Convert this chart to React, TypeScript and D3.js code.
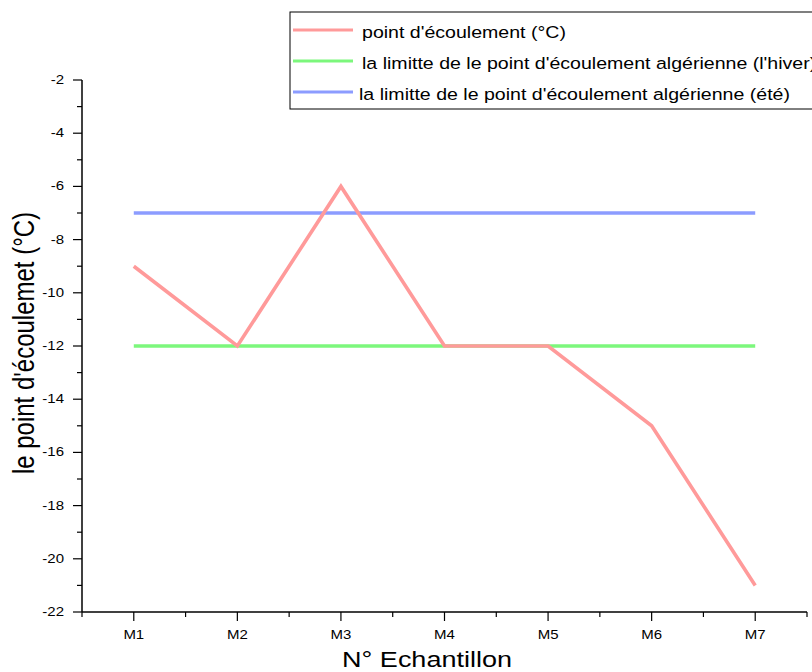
import React from "react";
import * as d3 from "d3";

// Samples and their pour point (°C)
const samples = ["M1", "M2", "M3", "M4", "M5", "M6", "M7"];
const pourPoint = [-9, -12, -6, -12, -12, -15, -21];
// Algerian limits
const winterLimit = [-12, -12, -12, -12, -12, -12, -12];
const summerLimit = [-7, -7, -7, -7, -7, -7, -7];

const yTicks = [-2, -4, -6, -8, -10, -12, -14, -16, -18, -20, -22];
const yMinor = [-3, -5, -7, -9, -11, -13, -15, -17, -19, -21];

const seriesNames = [
  "point d'écoulement (°C)",
  "la limitte de le point d'écoulement algérienne (l'hiver)",
  "la limitte de le point d'écoulement algérienne (été)",
];
const seriesColors = ["#ff9a9a", "#7cf77c", "#8c9cff"];

const W = 812;
const H = 672;
const FONT = "'Liberation Sans', Arial, Helvetica, sans-serif";
const SX = 1.2; // horizontal glyph stretch

function SText(props: {
  x: number;
  y: number;
  size: number;
  anchor?: string;
  rotate?: number;
  baseline?: string;
  children: React.ReactNode;
}) {
  const { x, y, size, anchor = "start", rotate = 0, baseline = "central", children } = props;
  return (
    <text
      transform={`translate(${x},${y}) scale(${SX},1)${rotate ? ` rotate(${rotate})` : ""}`}
      fontSize={size}
      fontFamily={FONT}
      textAnchor={anchor}
      dominantBaseline={baseline}
      fill="#000"
    >
      {children}
    </text>
  );
}

export default function App() {
  const x = d3.scaleLinear().domain([0.5, 7.5]).range([82, 807]);
  const y = d3.scaleLinear().domain([-22, -2]).range([612, 80]);

  const line = d3
    .line<number>()
    .x((_, i) => x(i + 1))
    .y((d) => y(d));

  const series = [pourPoint, winterLimit, summerLimit];
  const drawOrder = [1, 2, 0];
  const xMinor = d3.range(0.5, 8, 1);

  const legendX = 290;
  const legendY = 12;
  const legendRows = [30, 61, 92];
  const legendTextX = [362, 362, 359];

  return (
    <div style={{ position: "absolute", left: 0, top: 0, width: W, height: H, overflow: "hidden" }}>
      <svg width={W} height={H} style={{ display: "block", background: "#fff" }}>
        {/* data lines */}
        {drawOrder.map((k) => (
          <path
            key={k}
            d={line(series[k]) || ""}
            fill="none"
            stroke={seriesColors[k]}
            strokeWidth={3.6}
            strokeLinejoin="miter"
          />
        ))}

        {/* y axis */}
        <line x1={x(0.5)} x2={x(0.5)} y1={y(-2)} y2={y(-22)} stroke="#000" strokeWidth={1.5} />
        {yTicks.map((t) => (
          <g key={t}>
            <line x1={x(0.5) - 9} x2={x(0.5)} y1={y(t)} y2={y(t)} stroke="#000" strokeWidth={1.2} />
            <SText x={64} y={y(t)} size={12.5} anchor="end">
              {String(t)}
            </SText>
          </g>
        ))}
        {yMinor.map((t) => (
          <line key={t} x1={x(0.5) - 5} x2={x(0.5)} y1={y(t)} y2={y(t)} stroke="#000" strokeWidth={1.2} />
        ))}

        {/* x axis */}
        <line x1={x(0.5)} x2={x(7.5)} y1={y(-22)} y2={y(-22)} stroke="#000" strokeWidth={1.5} />
        {samples.map((s, i) => (
          <g key={s}>
            <line x1={x(i + 1)} x2={x(i + 1)} y1={y(-22)} y2={y(-22) + 9} stroke="#000" strokeWidth={1.2} />
            <SText x={x(i + 1)} y={635} size={12.5} anchor="middle">
              {s}
            </SText>
          </g>
        ))}
        {xMinor.map((v) => (
          <line key={v} x1={x(v)} x2={x(v)} y1={y(-22)} y2={y(-22) + 5} stroke="#000" strokeWidth={1.2} />
        ))}

        {/* axis titles */}
        <SText x={427} y={667} size={22.5} anchor="middle" baseline="alphabetic">
          N° Echantillon
        </SText>
        <SText x={24} y={343} size={24} anchor="middle" rotate={-90}>
          le point d'écoulemet (°C)
        </SText>

        {/* legend */}
        <rect x={legendX} y={legendY} width={700} height={97} fill="#fff" stroke="#000" strokeWidth={1} />
        {seriesNames.map((name, i) => (
          <g key={name}>
            <line
              x1={293}
              x2={353}
              y1={legendRows[i]}
              y2={legendRows[i]}
              stroke={seriesColors[i]}
              strokeWidth={3}
            />
            <SText x={legendTextX[i]} y={legendRows[i] + 3} size={16.3}>
              {name}
            </SText>
          </g>
        ))}
      </svg>
    </div>
  );
}
